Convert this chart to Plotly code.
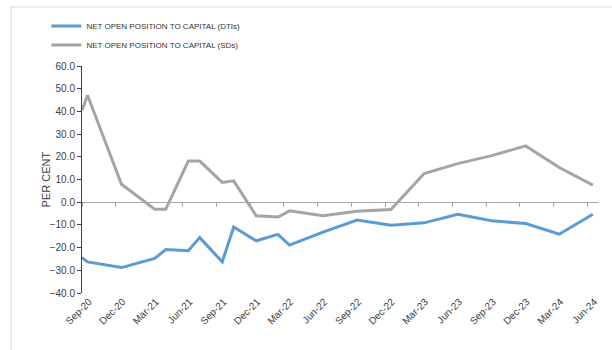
import plotly.graph_objects as go

dates = ["2020-09-15", "2020-09-30", "2020-12-31", "2021-03-31", "2021-04-30",
         "2021-06-30", "2021-07-31", "2021-09-30", "2021-10-31", "2021-12-31",
         "2022-02-28", "2022-03-31", "2022-06-30", "2022-09-30", "2022-12-31",
         "2023-03-31", "2023-06-30", "2023-09-30", "2023-12-31", "2024-03-31",
         "2024-06-30"]
dtis = [-24.4, -26.3, -28.8, -24.8, -20.8, -21.4, -15.6, -26.3, -10.9, -17.0,
        -14.2, -18.9, -13.2, -7.9, -10.1, -9.1, -5.3, -8.2, -9.4, -14.1, -5.3]
sds = [40.5, 47.1, 7.9, -3.1, -3.1, 18.1, 18.1, 8.7, 9.4, -6.0,
       -6.5, -3.8, -6.0, -4.0, -3.2, 12.6, 17.0, 20.5, 24.8, 15.3, 7.5]

tick_dates = ["2020-09-15", "2020-12-15", "2021-03-15", "2021-06-15", "2021-09-15",
              "2021-12-15", "2022-03-15", "2022-06-15", "2022-09-15", "2022-12-15",
              "2023-03-15", "2023-06-15", "2023-09-15", "2023-12-15", "2024-03-15",
              "2024-06-15"]
tick_text = ["Sep-20", "Dec-20", "Mar-21", "Jun-21", "Sep-21", "Dec-21", "Mar-22",
             "Jun-22", "Sep-22", "Dec-22", "Mar-23", "Jun-23", "Sep-23", "Dec-23",
             "Mar-24", "Jun-24"]
y_ticks = [60, 50, 40, 30, 20, 10, 0, -10, -20, -30, -40]

x_range = ["2020-09-15", "2024-07-14"]
FONT = "Liberation Sans, Arial, sans-serif"

fig = go.Figure()
fig.add_trace(go.Scatter(x=dates, y=dtis, mode="lines",
                         name="NET OPEN POSITION TO CAPITAL (DTIs)",
                         line=dict(color="#5B9BD5", width=3)))
fig.add_trace(go.Scatter(x=dates, y=sds, mode="lines",
                         name="NET OPEN POSITION TO CAPITAL (SDs)",
                         line=dict(color="#A5A5A5", width=3)))
# carrier for the tick axis at zero
fig.add_trace(go.Scatter(x=dates, y=sds, xaxis="x2", mode="lines",
                         line=dict(width=0), showlegend=False, hoverinfo="skip"))

fig.update_layout(
    width=612, height=350,
    margin=dict(l=82, r=14, t=66, b=57),
    paper_bgcolor="white", plot_bgcolor="white",
    font=dict(family=FONT, size=10, color="#404040"),
    showlegend=True,
    legend=dict(x=-0.069, y=1.24, xanchor="left", yanchor="top",
                font=dict(family=FONT, size=8, color="#333333"),
                traceorder="normal",
                bgcolor="rgba(0,0,0,0)"),
    xaxis=dict(type="date", range=x_range, tickvals=tick_dates, ticktext=tick_text,
               tickangle=-45, showgrid=False, zeroline=False, showline=False,
               ticks="", ticklabelshift=7, ticklabelstandoff=0,
               tickfont=dict(size=10, color="#404040")),
    xaxis2=dict(type="date", range=x_range, tickvals=tick_dates, overlaying="x",
                anchor="free", position=0.4, showticklabels=False,
                showline=True, linecolor="#A6A6A6", linewidth=1,
                ticks="outside", ticklen=4, tickcolor="#A6A6A6",
                showgrid=False, zeroline=False),
    yaxis=dict(range=[-40, 60], tickvals=y_ticks, tickformat=".1f",
               showgrid=False, zeroline=False, showline=True,
               linecolor="#404040", linewidth=1, ticks="outside", ticklen=4,
               tickcolor="#404040", tickfont=dict(size=10, color="#404040")),
    annotations=[dict(text="PER CENT", xref="paper", yref="paper",
                      x=-0.0698, y=0.5, xanchor="center", yanchor="middle",
                      textangle=-90, showarrow=False,
                      font=dict(family=FONT, size=11, color="#404040"))],
    shapes=[dict(type="rect", xref="paper", yref="paper",
                 x0=-0.1376, x1=1.2, y0=-0.6, y1=1.26,
                 line=dict(color="#D9D9D9", width=1), fillcolor="rgba(0,0,0,0)",
                 layer="below")],
)

fig.write_html("out.html")
